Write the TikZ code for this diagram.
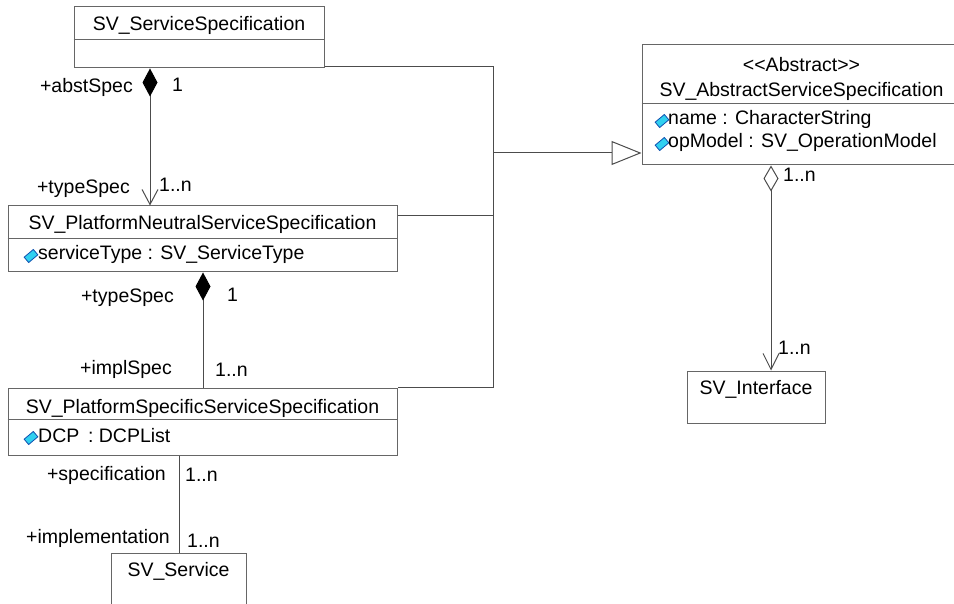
\documentclass[tikz,border=0pt]{standalone}
\usepackage{fontspec}
\setmainfont{Liberation Sans}
\usepackage{tikz}
\usetikzlibrary{arrows.meta,positioning,shapes.geometric}
\definecolor{iconfill}{HTML}{30D0F0}
\definecolor{iconedge}{HTML}{1050B0}
\newcommand{\lt}{<\kern0pt<}
\newcommand{\gt}{>\kern0pt>}

\begin{document}
\begin{tikzpicture}[x=1pt,y=-1pt,
                    cls/.style={draw=black!60, line width=1pt, inner sep=0pt},
                    lbl/.style={font=\fontsize{19.5}{22}\selectfont, inner sep=0pt},
                    myline/.style={draw=black!70, line width=1pt},
                    attricon/.style={rectangle, fill=iconfill, draw=iconedge, line width=0.8pt,
                                     minimum width=12pt, minimum height=7pt, inner sep=0pt, rotate=40},
                    compo/.style={{Diamond[length=28pt,width=15pt,color=black,fill=black]}-},
                    componav/.style={{Diamond[length=28pt,width=15pt,color=black,fill=black]}-{Straight Barb[length=15pt,width=16pt]}},
                    aggronav/.style={{Diamond[open,length=26pt,width=15pt,fill=white]}-{Straight Barb[length=16pt,width=16pt]}},
                   ]

\useasboundingbox (0,0) rectangle (954,604);
\clip (0,0) rectangle (954,604);

% classes
\node[cls, minimum width=250pt, minimum height=61pt] (spec) at (199,37.5) {};
\node[cls, minimum width=389pt, minimum height=66pt] (pnss) at (202.5,239) {};
\node[cls, minimum width=389pt, minimum height=67pt] (psss) at (202.5,421.5) {};
\node[cls, minimum width=135pt, minimum height=72pt] (svc) at (178.5,589) {};
\node[cls, minimum width=319pt, minimum height=120pt] (abst) at (801.5,105) {};
\node[cls, minimum width=138pt, minimum height=52pt] (iface) at (756,397) {};

\draw[cls] ([yshift=-33pt]spec.north west) -- ([yshift=-33pt]spec.north east);
\draw[cls] ([yshift=-33pt]pnss.north west) -- ([yshift=-33pt]pnss.north east);
\draw[cls] ([yshift=-32pt]psss.north west) -- ([yshift=-32pt]psss.north east);
\draw[cls] ([yshift=-59pt]abst.north west) -- ([yshift=-59pt]abst.north east);

\node[lbl, anchor=base] (specname) at (199,31) {SV\_ServiceSpecification};
\node[lbl, anchor=base] (pnssname) at (202.5,230) {SV\_PlatformNeutralServiceSpecification};
\node[lbl, anchor=base] (psssname) at (202.5,413) {SV\_PlatformSpecificServiceSpecification};
\node[lbl, anchor=base] (svcname) at (178.5,576) {SV\_Service};
\node[lbl, anchor=base] (abststereo) at (801.5,72) {\lt Abstract\gt};
\node[lbl, anchor=base] (abstname) at (801.5,97) {SV\_AbstractServiceSpecification};
\node[lbl, anchor=base] (ifacename) at (756,394) {SV\_Interface};

% attributes
\node[attricon] (ic1) at (31,256) {};
\node[lbl, anchor=base west] (stype) at (38,260) {serviceType : SV\_ServiceType};
\node[attricon] (ic2) at (31,438) {};
\node[lbl, anchor=base west] (dcp) at (38,442) {DCP\, : DCPList};
\node[attricon] (ic3) at (662,121) {};
\node[lbl, anchor=base west] (aname) at (668,125) {name : CharacterString};
\node[attricon] (ic4) at (662,144) {};
\node[lbl, anchor=base west] (aopm) at (668,148) {opModel : SV\_OperationModel};

% associations
\draw[myline, componav] ([xshift=-49pt]spec.south) -- ([xshift=-52.5pt]pnss.north);
\draw[myline, compo] ([xshift=0.5pt]pnss.south) -- ([xshift=0.5pt]psss.north);
\draw[myline] ([xshift=-23.5pt]psss.south) -- ([xshift=0.5pt]svc.north);
\draw[myline, aggronav] ([xshift=-30.5pt]abst.south) -- ([xshift=15pt]iface.north);

% generalization
\coordinate (bus) at (493,153);
\coordinate (pnssout) at ([yshift=-10.5pt]pnss.north east);
\draw[myline] ([yshift=2pt]spec.south east) -| (bus |- psss.north) -- (psss.north east);
\draw[myline] (pnssout) -- (pnssout -| bus);
\draw[myline, -{Triangle[open,length=30pt,width=24pt,fill=white]}] (bus) -- (bus -| abst.west);

% roles and multiplicities
\node[lbl, anchor=base east] (r1) at (133,93) {+abstSpec};
\node[lbl, anchor=base west] (m1) at (172,92) {1};
\node[lbl, anchor=base east] (r2) at (130,194) {+typeSpec};
\node[lbl, anchor=base west] (m2) at (159,192) {1..n};
\node[lbl, anchor=base east] (r3) at (174,303) {+typeSpec};
\node[lbl, anchor=base west] (m3) at (227,302) {1};
\node[lbl, anchor=base east] (r4) at (172,374) {+implSpec};
\node[lbl, anchor=base west] (m4) at (215,376) {1..n};
\node[lbl, anchor=base east] (r5) at (166,480) {+specification};
\node[lbl, anchor=base west] (m5) at (185,481) {1..n};
\node[lbl, anchor=base east] (r6) at (170,543) {+implementation};
\node[lbl, anchor=base west] (m6) at (187,547) {1..n};
\node[lbl, anchor=base west] (m7) at (783,182) {1..n};
\node[lbl, anchor=base west] (m8) at (778,355) {1..n};

\end{tikzpicture}
\end{document}
